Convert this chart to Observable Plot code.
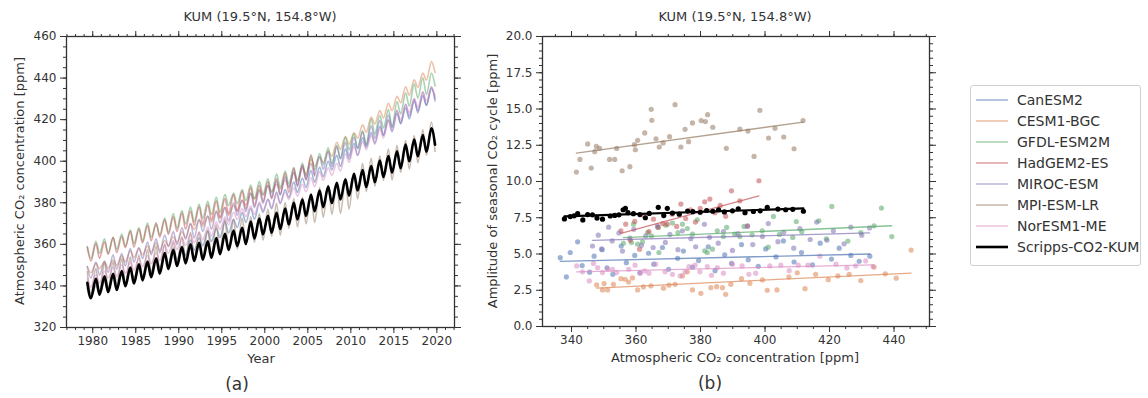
<!DOCTYPE html>
<html><head><meta charset="utf-8">
<script src="https://cdn.jsdelivr.net/npm/d3@7"></script>
<script src="https://cdn.jsdelivr.net/npm/@observablehq/plot@0.6"></script>
<style>
html,body{margin:0;padding:0;background:#fff;overflow:hidden;}
#wrap{position:relative;width:1148px;height:398px;font-family:"DejaVu Sans",sans-serif;color:#333;}
.abs{position:absolute;white-space:nowrap;}
.c{transform:translate(-50%,-50%);}
.rot{transform:translate(-50%,-50%) rotate(-90deg);}
#legend{position:absolute;left:970px;top:85px;width:171px;height:181px;border:1px solid #d0d0d0;border-radius:3px;box-sizing:border-box;background:#fff;padding-top:3px;}
.row{height:21px;display:flex;align-items:center;font-size:14px;color:#333;}
.sw{width:32px;margin-left:5px;margin-right:9px;}
</style></head>
<body><div id="wrap">
<div id="pa" class="abs" style="left:0;top:0"></div>
<div id="pb" class="abs" style="left:480px;top:0"></div>
<div class="abs c" style="left:260px;top:16px;font-size:13px">KUM (19.5°N, 154.8°W)</div>
<div class="abs c" style="left:735px;top:16px;font-size:13px">KUM (19.5°N, 154.8°W)</div>
<div class="abs c" style="left:261px;top:358px;font-size:13px">Year</div>
<div class="abs c" style="left:735px;top:357px;font-size:13px">Atmospheric CO₂ concentration [ppm]</div>
<div class="abs rot" style="left:19px;top:181px;font-size:13px">Atmospheric CO₂ concentration [ppm]</div>
<div class="abs rot" style="left:492px;top:181px;font-size:13px">Amplitude of seasonal CO₂ cycle [ppm]</div>
<div class="abs c" style="left:237px;top:384px;font-size:17px">(a)</div>
<div class="abs c" style="left:710px;top:383px;font-size:17px">(b)</div>
<div id="legend"></div>
</div>
<script>
// ---- data ----
const startYear = 1979;
const modelNames = ["CanESM2","CESM1-BGC","GFDL-ESM2M","HadGEM2-ES","MIROC-ESM","MPI-ESM-LR","NorESM1-ME","Scripps-CO2-KUM"];
const modelColors = ["#4c72b0","#dd8452","#55a868","#c44e52","#8172b3","#937860","#da8bc3","#000000"];

// annual mean CO2 [ppm] and seasonal amplitude [ppm], one value per year from 1979
const canCO2 = [336.5,338.4,339.6,341.9,343.3,345.6,347.0,349.5,351.0,352.8,355.4,357.0,359.6,361.2,363.9,365.5,368.2,370.1,372.9,374.7,377.5,379.4,382.4,384.5,387.5,389.6,392.7,394.8,397.9,400.2,403.4,405.7,409.0,411.3,414.7,417.1,420.6,423.0,426.6,429.2,432.5];
const canAmp = [4.75,3.42,5.10,5.84,4.20,3.75,4.85,5.30,4.05,3.60,5.55,4.40,4.90,3.70,5.05,4.30,5.45,3.95,4.70,5.20,4.10,4.55,5.50,3.85,4.95,4.35,5.65,4.60,4.15,5.35,4.80,5.90,4.45,5.10,4.25,5.75,4.65,5.40,4.90,4.50,4.85];

const cesmCO2 = [347.8,349.6,350.1,351.2,353.0,355.3,356.6,357.7,358.9,360.5,362.3,364.6,368.5,370.2,372.1,374.4,375.9,377.5,380.1,383.2,385.0,386.8,387.8,389.4,392.7,395.3,399.2,400.7,403.7,407.4,410.0,412.4,415.7,419.6,422.6,426.1,429.7,433.8,437.3,440.7,445.3];
const cesmAmp = [2.87,2.52,2.96,2.52,2.91,3.30,3.26,3.07,3.35,2.52,2.73,2.80,2.64,2.85,2.91,3.49,3.77,2.52,2.29,2.68,2.75,2.68,2.22,2.91,3.30,2.98,3.21,2.50,2.52,3.42,3.70,2.61,3.60,3.23,3.49,3.60,3.17,4.10,3.63,3.33,5.27];

const gfdlCO2 = [356.1,358.6,359.2,360.5,362.0,363.6,364.8,366.8,367.1,369.2,371.3,373.0,374.4,375.9,377.5,379.0,381.3,382.1,383.7,385.2,387.1,388.1,390.6,392.2,393.5,396.0,399.1,401.0,402.6,404.5,408.6,409.7,411.4,416.7,419.0,420.7,425.7,429.7,433.8,436.1,439.3];
const gfdlAmp = [5.74,5.79,7.06,5.68,5.84,6.48,6.25,6.83,5.10,6.99,7.13,6.48,7.06,6.76,6.37,7.36,5.22,5.10,5.33,6.60,6.20,6.83,6.37,6.20,6.90,6.32,6.60,5.47,7.59,6.35,6.14,7.24,6.53,7.29,6.05,8.28,5.89,6.48,6.94,8.17,6.20];

const hadCO2 = [355.3,356.8,358.2,359.6,361.1,362.5,364.0,365.4,366.9,368.3,369.7,371.2,372.6,373.9,375.4,376.9,378.4,379.9,381.3,382.9,384.5,386.1,387.8,389.6,392.2,394.6,398.1];
const hadAmp = [6.60,7.06,5.95,7.25,5.33,7.63,6.55,7.40,6.85,7.10,7.06,7.75,6.90,8.44,7.45,8.05,7.20,8.15,8.60,8.79,7.85,8.35,7.60,9.36,8.67,6.94,10.05];

const mirocCO2 = [346.5,348.3,349.3,351.5,352.6,354.7,355.8,358.1,359.3,361.7,363.0,365.3,366.6,369.1,370.5,373.0,374.4,377.0,378.5,381.2,382.8,385.5,387.1,389.9,391.6,394.5,396.2,399.2,401.0,404.0,405.8,408.9,410.8,414.0,416.0,419.2,421.2,424.5,426.6,430.0,432.4];
const mirocAmp = [5.55,6.30,5.35,6.85,5.90,6.45,5.20,6.10,6.70,5.60,6.25,5.45,6.95,5.80,6.35,5.30,6.60,6.05,5.50,7.05,6.15,5.75,6.55,5.25,6.40,6.90,5.65,6.20,7.10,5.85,6.50,5.40,6.75,6.00,7.20,5.95,6.60,5.70,6.85,6.30,6.80];

const mpiCO2 = [341.5,342.6,345.0,346.1,347.2,347.7,348.7,351.8,353.4,354.0,355.7,358.1,359.5,359.8,360.5,362.7,364.7,364.9,366.2,367.2,368.4,370.4,372.1,373.9,375.2,376.3,377.5,380.2,381.5,382.2,383.8,388.0,392.2,394.7,396.6,398.4,401.1,403.1,405.8,409.0,411.8];
const mpiAmp = [10.65,11.52,12.59,10.93,12.06,12.42,12.29,11.52,11.52,12.28,10.74,11.02,12.54,12.19,12.84,13.35,14.98,14.22,12.95,12.38,12.66,13.09,15.30,12.38,13.60,12.75,14.04,14.20,14.13,14.61,13.74,12.29,13.62,13.48,11.73,14.91,13.00,13.67,13.07,12.26,14.20];

const norCO2 = [341.6,343.4,345.5,346.8,348.1,349.6,351.2,352.7,354.0,357.7,359.7,361.3,362.7,364.0,366.1,369.0,371.3,373.7,375.2,376.4,378.3,379.8,382.1,383.4,385.2,387.1,389.9,392.9,395.0,397.1,401.5,404.9,407.5,410.3,413.3,417.0,422.0,425.4,428.1,431.2,433.5];
const norAmp = [4.18,3.77,3.14,4.35,4.06,3.72,3.95,3.95,3.72,3.95,4.23,3.68,3.83,3.68,4.30,3.77,3.60,3.49,3.77,4.13,4.23,3.77,4.13,3.53,4.06,3.68,4.30,4.18,3.60,3.68,4.18,4.23,3.85,4.23,4.23,4.85,4.30,4.04,4.18,4.52,4.13];

const obsCO2 = [337.8,339.6,340.8,341.9,343.5,345.0,346.5,347.9,349.6,352.0,353.4,354.7,356.0,356.7,357.5,359.2,361.2,362.9,364.1,366.9,368.6,369.7,371.3,373.4,376.0,377.6,379.9,381.9,383.8,385.6,387.4,389.9,391.7,393.8,396.4,398.5,400.7,404.0,406.4,408.6,411.9];
const obsAmp = [7.42,7.58,7.63,7.78,7.35,7.72,7.70,7.48,7.40,7.62,7.66,7.70,8.05,8.15,7.85,7.78,7.72,7.50,7.80,8.22,7.65,8.15,7.82,7.75,7.96,7.92,7.88,8.00,7.95,8.05,7.90,7.98,8.12,7.85,7.93,7.98,8.22,8.10,8.05,8.08,7.95];

// tick labels
const yearTicks = [1980,1985,1990,1995,2000,2005,2010,2015,2020];
const co2TicksA = [320,340,360,380,400,420,440,460];
const co2TicksB = [340,360,380,400,420,440];
const ampTicks = [0,2.5,5,7.5,10,12.5,15,17.5,20];

// ---- tables built from the arrays ----
const series = [
  ["CanESM2", canCO2, canAmp], ["CESM1-BGC", cesmCO2, cesmAmp], ["GFDL-ESM2M", gfdlCO2, gfdlAmp],
  ["HadGEM2-ES", hadCO2, hadAmp], ["MIROC-ESM", mirocCO2, mirocAmp], ["MPI-ESM-LR", mpiCO2, mpiAmp],
  ["NorESM1-ME", norCO2, norAmp], ["Scripps-CO2-KUM", obsCO2, obsAmp]
];
const annual = [];
const monthly = [];
for (const [model, co2, amp] of series) {
  co2.forEach((c, i) => {
    annual.push({model, co2: c, amp: amp[i]});
    monthly.push({model, t: startYear + i + 0.37, v: c + amp[i] / 2});
    monthly.push({model, t: startYear + i + 0.79, v: c - amp[i] / 2});
  });
}
const isObs = d => d.model === "Scripps-CO2-KUM";
const annualModels = annual.filter(d => !isObs(d));
const annualObs = annual.filter(isObs);
const monthlyModels = monthly.filter(d => !isObs(d));
const monthlyObs = monthly.filter(isObs);

const color = {domain: modelNames, range: modelColors};
const range = (a, b, s) => d3.range(a, b + s / 2, s);
const blank = () => "";

function frameAxes(xMaj, xMin, yMaj, yMin, xFmt, yFmt) {
  return [
    Plot.axisX({ticks: xMin, anchor: "bottom", tickSize: 3, tickFormat: blank, label: null}),
    Plot.axisX({ticks: xMin, anchor: "top", tickSize: 3, tickFormat: blank, label: null}),
    Plot.axisX({ticks: xMaj, anchor: "top", tickSize: 6, tickFormat: blank, label: null}),
    Plot.axisX({ticks: xMaj, anchor: "bottom", tickSize: 6, tickPadding: 3, tickFormat: xFmt, label: null}),
    Plot.axisY({ticks: yMin, anchor: "left", tickSize: 3, tickFormat: blank, label: null}),
    Plot.axisY({ticks: yMin, anchor: "right", tickSize: 3, tickFormat: blank, label: null}),
    Plot.axisY({ticks: yMaj, anchor: "right", tickSize: 6, tickFormat: blank, label: null}),
    Plot.axisY({ticks: yMaj, anchor: "left", tickSize: 6, tickPadding: 4, tickFormat: yFmt, label: null}),
    Plot.frame({stroke: "#333", strokeWidth: 1.3})
  ];
}
const svgStyle = {fontSize: "12px", fontFamily: "DejaVu Sans, sans-serif", color: "#333", background: "transparent", overflow: "visible"};

const pa = Plot.plot({
  width: 480, height: 372,
  marginLeft: 66, marginRight: 26, marginTop: 36, marginBottom: 45,
  style: svgStyle,
  x: {domain: [1976.95, 2022.05], axis: null},
  y: {domain: [320, 460], axis: null},
  color,
  marks: [
    Plot.line(monthlyModels, {x: "t", y: "v", z: "model", stroke: "model", strokeWidth: 1.6, strokeOpacity: 0.5, curve: "monotone-x"}),
    Plot.line(monthlyObs, {x: "t", y: "v", stroke: "#000", strokeWidth: 2.6, curve: "monotone-x"}),
    ...frameAxes(yearTicks, range(1977, 2022, 1), co2TicksA, range(320, 460, 5), d => String(d), d => String(d))
  ]
});
document.getElementById("pa").append(pa);

const pb = Plot.plot({
  width: 480, height: 372,
  marginLeft: 62, marginRight: 31, marginTop: 36, marginBottom: 46,
  style: svgStyle,
  x: {domain: [331, 451], axis: null},
  y: {domain: [0, 20], axis: null},
  color,
  marks: [
    Plot.dot(annualModels, {x: "co2", y: "amp", fill: "model", r: 2.6, fillOpacity: 0.55}),
    Plot.linearRegressionY(annualModels, {x: "co2", y: "amp", stroke: "model", ci: 0, strokeWidth: 1.3, strokeOpacity: 0.7}),
    Plot.dot(annualObs, {x: "co2", y: "amp", fill: "#000", r: 2.6}),
    Plot.linearRegressionY(annualObs, {x: "co2", y: "amp", stroke: "#000", ci: 0, strokeWidth: 2.2}),
    ...frameAxes(co2TicksB, range(335, 450, 5), ampTicks, range(0, 20, 0.5), d => String(d), d3.format(".1f"))
  ]
});
document.getElementById("pb").append(pb);

// legend
const leg = document.getElementById("legend");
modelNames.forEach((name, i) => {
  const row = document.createElement("div");
  row.className = "row";
  const obs = name === "Scripps-CO2-KUM";
  row.innerHTML = `<svg class="sw" width="32" height="6"><line x1="0" x2="32" y1="3" y2="3" stroke="${modelColors[i]}" stroke-width="${obs ? 2.6 : 1.6}" stroke-opacity="${obs ? 1 : 0.5}"/></svg><span>${name}</span>`;
  leg.append(row);
});
</script>
</body></html>
